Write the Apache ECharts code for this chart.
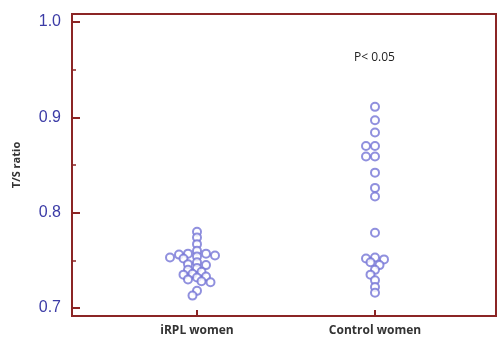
<!DOCTYPE html>
<html><head><meta charset="utf-8">
<script src="https://cdn.jsdelivr.net/npm/echarts@6/dist/echarts.min.js"></script>
<style>html,body{margin:0;padding:0;background:#fff}#c{width:498px;height:341px}</style>
</head><body><div id="c"></div>
<script>
const categories = ['iRPL women', 'Control women'];
const irplValues = [0.780, 0.774, 0.767, 0.760, 0.757, 0.757, 0.756, 0.755, 0.754, 0.753, 0.752,
  0.748, 0.746, 0.745, 0.742, 0.740, 0.738, 0.736, 0.735, 0.733, 0.732, 0.730, 0.728, 0.727, 0.718, 0.713];
const controlValues = [0.911, 0.897, 0.884, 0.870, 0.870, 0.859, 0.859, 0.842, 0.826, 0.817, 0.779,
  0.753, 0.752, 0.751, 0.748, 0.745, 0.740, 0.735, 0.729, 0.722, 0.716];
const yTicks = [0.7, 0.8, 0.9, 1.0];
const annotation = 'P< 0.05';

const chart = echarts.init(document.getElementById('c'));
const symbolColor = '#7474d6';
function makeSeries(idx, vals, offsets) {
  return {
    type: 'scatter', symbol: 'emptyCircle', symbolSize: 8,
    itemStyle: { color: symbolColor, borderColor: symbolColor, borderWidth: 1.1 },
    data: vals.map((v, i) => ({ value: [idx, v], symbolOffset: [offsets ? offsets[i] : 0, 0] }))
  };
}
const option = {
  animation: false,
  grid: { left: 108, right: 34, top: 22, bottom: 33 },
  xAxis: {
    type: 'category', data: categories, offset: 8,
    axisLine: { show: false },
    axisTick: { show: true, inside: true, length: 6, alignWithLabel: true, lineStyle: { color: '#8b2525', width: 2 } },
    axisLabel: { color: '#333', fontWeight: 'bold', fontSize: 12, margin: 9, fontFamily: 'Open Sans' },
    splitLine: { show: false }
  },
  yAxis: {
    type: 'value', min: 0.7, max: 1.0, interval: 0.1, offset: 36,
    name: 'T/S ratio', nameLocation: 'middle', nameGap: 50, nameRotate: 90,
    nameTextStyle: { color: '#333', fontWeight: 'bold', fontSize: 11, fontFamily: 'Open Sans' },
    axisLine: { show: false },
    axisTick: { show: true, inside: true, length: 8, lineStyle: { color: '#8b2525', width: 2 } },
    minorTick: { show: true, splitNumber: 2, length: 4, lineStyle: { color: '#8b2525', width: 1.5 } },
    axisLabel: { color: '#3b3ba6', fontSize: 16, margin: 11, fontFamily: 'Liberation Sans',
      formatter: v => yTicks.some(t => Math.abs(t - v) < 1e-6) ? v.toFixed(1) : '' },
    splitLine: { show: false }
  },
  graphic: [
    { type: 'rect', shape: { x: 72, y: 14, width: 424, height: 302 }, silent: true, z: 10,
      style: { fill: 'none', stroke: '#8b2525', lineWidth: 2 } },
    { type: 'text', left: 354, top: 52, style: { text: annotation, fill: '#222', font: '12px "Open Sans"' } }
  ],
  series: [makeSeries(0, irplValues), makeSeries(1, controlValues)]
};
chart.setOption(option);

// beeswarm offsets computed from pixel positions
function swarm(idx, vals) {
  const placed = [];
  const minD = 5.5, step = 4.5;
  return vals.map(v => {
    const py = chart.convertToPixel({ xAxisIndex: 0, yAxisIndex: 0 }, [idx, v])[1];
    let k = 0, dx = 0;
    while (true) {
      const cand = k === 0 ? 0 : (k % 2 === 1 ? -1 : 1) * Math.ceil(k / 2) * step;
      if (placed.every(p => Math.hypot(p[0] - cand, p[1] - py) >= minD)) { dx = cand; break; }
      k++;
    }
    placed.push([dx, py]);
    return dx;
  });
}
chart.setOption({ series: [makeSeries(0, irplValues, swarm(0, irplValues)), makeSeries(1, controlValues, swarm(1, controlValues))] });
</script></body></html>
